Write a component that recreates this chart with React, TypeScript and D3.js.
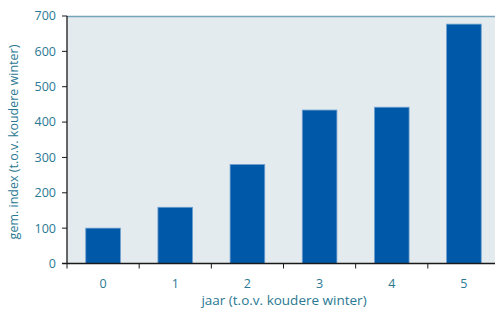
import React, { useRef, useEffect } from 'react';
import * as d3 from 'd3';

const years = ['0', '1', '2', '3', '4', '5'];
const indexValues = [100, 159, 280, 434, 442, 677];
const yTicks = [0, 100, 200, 300, 400, 500, 600, 700];

function App() {
  const svgRef = useRef<SVGSVGElement>(null);

  useEffect(() => {
    const svg = d3.select(svgRef.current);
    svg.selectAll('*').remove();

    const width = 495;
    const height = 311;
    const left = 67;
    const top = 16;
    const bottom = 263.5;
    const right = 500;
    const textColor = '#2a7893';
    const font = "'Open Sans', sans-serif";

    const x = d3.scaleBand().domain(years).range([left, right]).paddingInner(0.52).paddingOuter(0.26);
    const y = d3.scaleLinear().domain([0, 700]).range([bottom, top]);

    svg.attr('width', width).attr('height', height);

    svg.append('rect')
      .attr('x', left).attr('y', top)
      .attr('width', right - left).attr('height', bottom - top)
      .attr('fill', '#e4ebef');

    svg.append('line')
      .attr('x1', left).attr('x2', right)
      .attr('y1', top + 0.5).attr('y2', top + 0.5)
      .attr('stroke', '#74a4ba').attr('stroke-width', 1.5);

    svg.selectAll('rect.bar')
      .data(indexValues)
      .enter()
      .append('rect')
      .attr('class', 'bar')
      .attr('x', (d, i) => x(years[i]) as number)
      .attr('width', x.bandwidth())
      .attr('y', d => y(d))
      .attr('height', d => bottom - y(d))
      .attr('fill', '#0058a8')
      .attr('stroke', '#6f9fcf')
      .attr('stroke-width', 0.8);

    // y axis
    const gy = svg.append('g');
    gy.append('line')
      .attr('x1', left).attr('x2', left)
      .attr('y1', top).attr('y2', bottom)
      .attr('stroke', '#1a1a1a').attr('stroke-width', 1.3);
    gy.selectAll('line.tick')
      .data(yTicks)
      .enter()
      .append('line')
      .attr('class', 'tick')
      .attr('x1', left - 5).attr('x2', left)
      .attr('y1', d => y(d)).attr('y2', d => y(d))
      .attr('stroke', '#1a1a1a');
    gy.selectAll('text')
      .data(yTicks)
      .enter()
      .append('text')
      .attr('x', left - 11)
      .attr('y', d => y(d))
      .attr('dy', '0.35em')
      .attr('text-anchor', 'end')
      .attr('fill', textColor)
      .style('font-family', font)
      .style('font-size', '12.5px')
      .text(d => d);

    // x axis
    const gx = svg.append('g');
    gx.append('line')
      .attr('x1', left - 5).attr('x2', right)
      .attr('y1', bottom).attr('y2', bottom)
      .attr('stroke', '#1a1a1a').attr('stroke-width', 1.3);
    const step = x.step();
    const tickPos = years.map((d, i) => left + i * step);
    gx.selectAll('line.tick')
      .data(tickPos)
      .enter()
      .append('line')
      .attr('class', 'tick')
      .attr('x1', d => d).attr('x2', d => d)
      .attr('y1', bottom).attr('y2', bottom + 5)
      .attr('stroke', '#1a1a1a');
    gx.selectAll('text')
      .data(years)
      .enter()
      .append('text')
      .attr('x', d => (x(d) as number) + x.bandwidth() / 2)
      .attr('y', bottom + 24)
      .attr('text-anchor', 'middle')
      .attr('fill', textColor)
      .style('font-family', font)
      .style('font-size', '12.5px')
      .text(d => d);

    svg.append('text')
      .attr('x', 284)
      .attr('y', 305)
      .attr('text-anchor', 'middle')
      .attr('fill', textColor)
      .style('font-family', font)
      .style('font-size', '13.5px')
      .text('jaar (t.o.v. koudere winter)');

    svg.append('text')
      .attr('transform', 'translate(18,142) rotate(-90)')
      .attr('text-anchor', 'middle')
      .attr('fill', textColor)
      .style('font-family', font)
      .style('font-size', '12.5px')
      .text('gem. index (t.o.v. koudere winter)');
  }, []);

  return (
    <svg ref={svgRef} style={{ position: 'absolute', left: 0, top: 0 }}></svg>
  );
}

export default App;
